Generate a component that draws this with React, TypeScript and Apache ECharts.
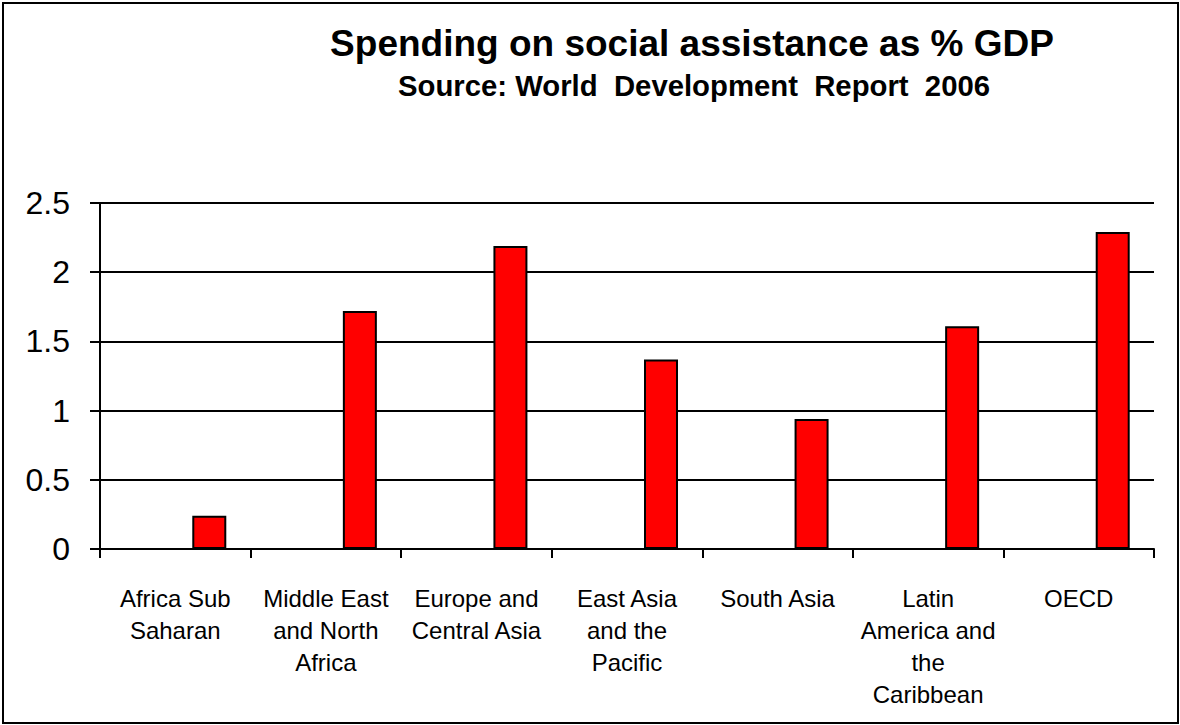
import React, { useEffect, useRef } from "react";
import * as echarts from "echarts";

const categories = [
  "Africa Sub Saharan",
  "Middle East and North Africa",
  "Europe and Central Asia",
  "East Asia and the Pacific",
  "South Asia",
  "Latin America and the Caribbean",
  "OECD",
];
const tickLabels = [
  "Africa Sub\nSaharan",
  "Middle East\nand North\nAfrica",
  "Europe and\nCentral Asia",
  "East Asia\nand the\nPacific",
  "South Asia",
  "Latin\nAmerica and\nthe\nCaribbean",
  "OECD",
];
const spending = [0.24, 1.72, 2.19, 1.37, 0.94, 1.61, 2.29];
const yTicks = [0, 0.5, 1, 1.5, 2, 2.5];
const titleText = "Spending on social assistance as % GDP";
const subtitleText = "Source: World  Development  Report  2006";

const FONT = "'Liberation Sans', Arial, Helvetica, sans-serif";

export default function App() {
  const ref = useRef<HTMLDivElement>(null);

  useEffect(() => {
    if (!ref.current) return;
    const chart = echarts.init(ref.current, null, { renderer: "svg" });
    const barBase = {
      type: "bar" as const,
      barWidth: 34,
      barGap: "0%",
      itemStyle: { color: "#ff0000", borderColor: "#000", borderWidth: 2 },
    };
    chart.setOption({
      animation: false,
      backgroundColor: "#fff",
      textStyle: { fontFamily: FONT },
      graphic: [
        {
          type: "rect",
          shape: { x: 3, y: 3, width: 1175, height: 720 },
          style: { fill: "none", stroke: "#000", lineWidth: 2 },
          z: 10,
        },
        {
          type: "text",
          x: 692,
          y: 43,
          style: {
            text: titleText,
            font: `bold 37px ${FONT}`,
            fill: "#000",
            textAlign: "center",
            textVerticalAlign: "middle",
          },
        },
        {
          type: "text",
          x: 694,
          y: 85,
          style: {
            text: subtitleText,
            font: `bold 29.3px ${FONT}`,
            fill: "#000",
            textAlign: "center",
            textVerticalAlign: "middle",
          },
        },
      ],
      grid: { left: 100, right: 26, top: 203, bottom: 176, containLabel: false },
      xAxis: {
        type: "category",
        data: categories,
        axisLine: { show: true, lineStyle: { color: "#000", width: 2 } },
        axisTick: { show: true, length: 9, lineStyle: { color: "#000", width: 2 } },
        axisLabel: {
          interval: 0,
          margin: 33,
          color: "#000",
          fontSize: 24,
          lineHeight: 32,
          fontFamily: FONT,
          formatter: (_v: string, i: number) => tickLabels[i],
        },
        splitLine: { show: false },
      },
      yAxis: {
        type: "value",
        min: yTicks[0],
        max: yTicks[yTicks.length - 1],
        interval: 0.5,
        axisLine: { show: true, lineStyle: { color: "#000", width: 2 } },
        axisTick: { show: true, length: 10, lineStyle: { color: "#000", width: 2 } },
        axisLabel: {
          margin: 30,
          color: "#000",
          fontSize: 32,
          fontFamily: FONT,
          formatter: (v: number) => String(v),
        },
        splitLine: { show: true, lineStyle: { color: "#000", width: 2 } },
      },
      series: [
        { ...barBase, name: "blank1", data: [] },
        { ...barBase, name: "blank2", data: [] },
        { ...barBase, name: "Spending on social assistance (% GDP)", data: spending },
      ],
    });
    return () => chart.dispose();
  }, []);

  return (
    <div
      ref={ref}
      style={{ position: "fixed", left: 0, top: 0, width: 1180, height: 725, background: "#fff" }}
    />
  );
}
